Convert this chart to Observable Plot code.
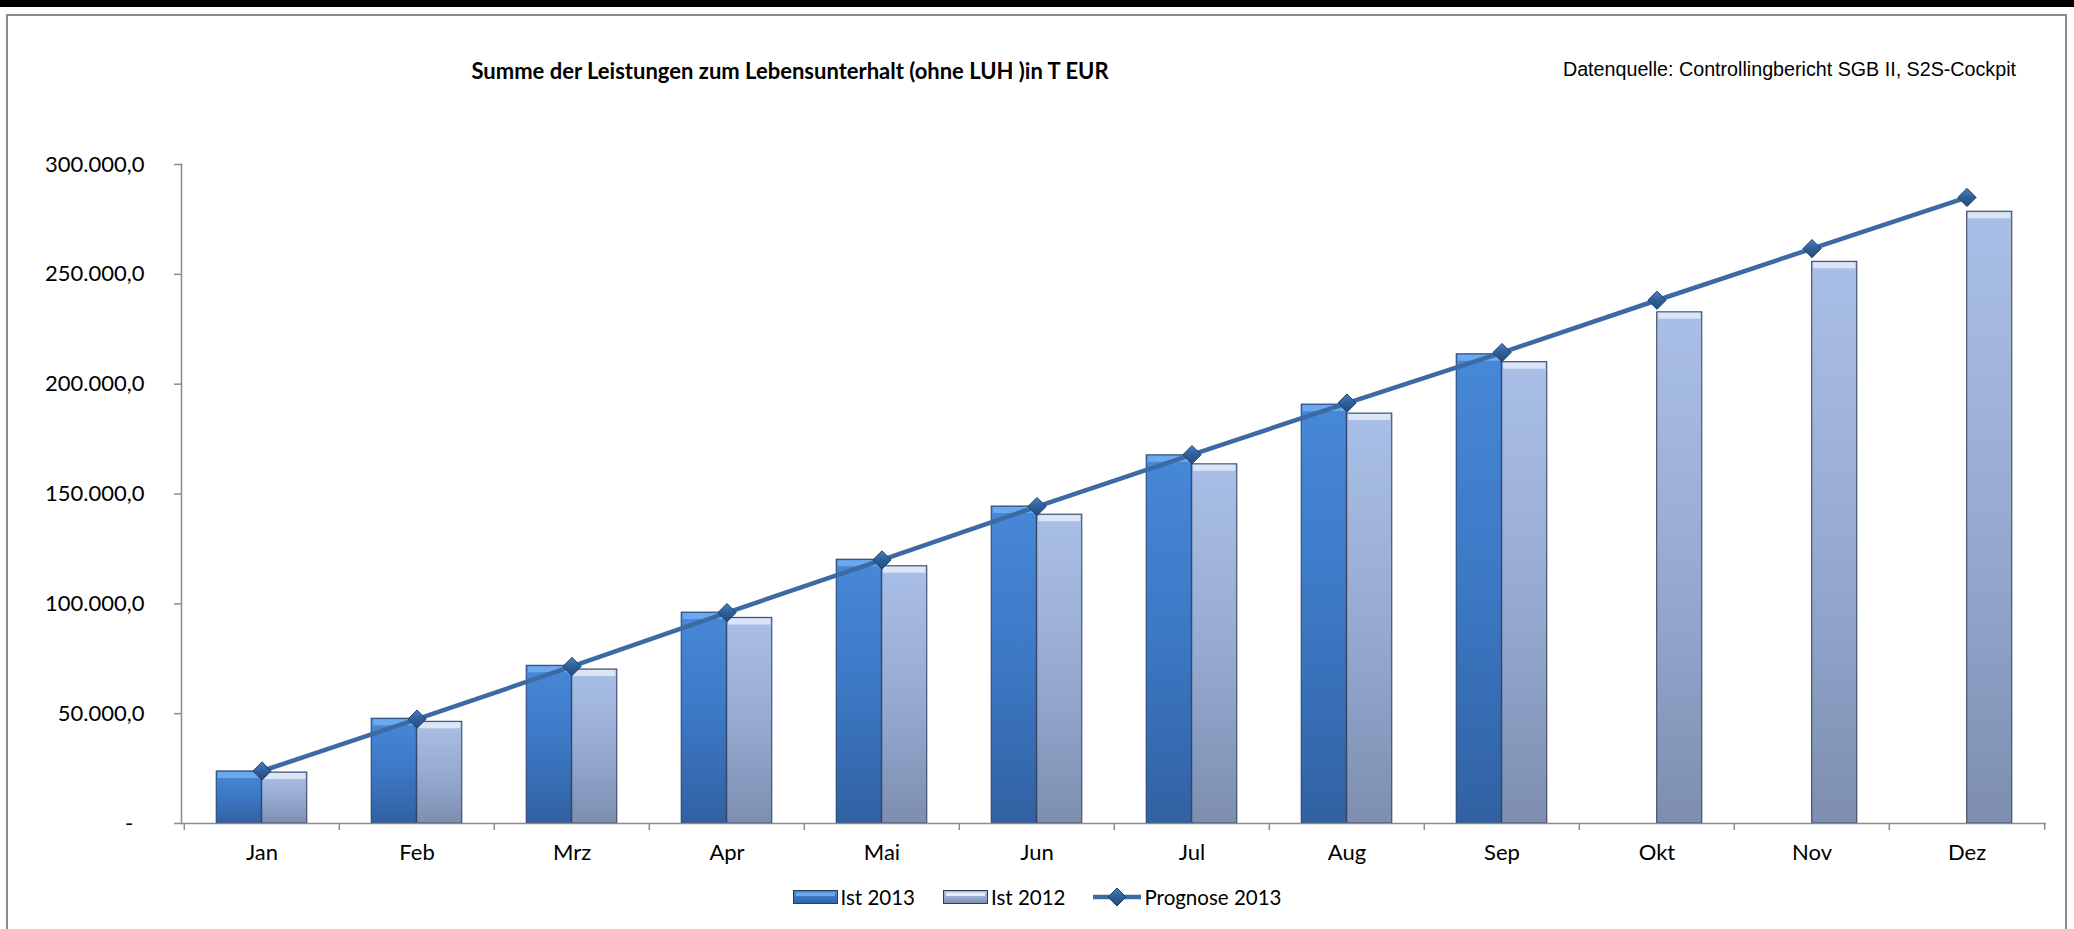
<!DOCTYPE html>
<html>
<head>
<meta charset="utf-8">
<script src="https://cdn.jsdelivr.net/npm/d3@7"></script>
<script src="https://cdn.jsdelivr.net/npm/@observablehq/plot@0.6"></script>
<style>
  body { margin: 0; background: #fff; }
  #page { position: relative; width: 2074px; height: 929px; overflow: hidden; background: #fff; font-family: Lato, sans-serif; }
  #topbar { position: absolute; left: 0; top: 0; width: 2074px; height: 7px; background: #000; }
  #frame { position: absolute; left: 6px; top: 14px; width: 2057px; height: 940px; border: 2px solid #8c8c8c; border-bottom: none; }
  #title { position: absolute; left: 0; width: 1580px; top: 57px; text-align: center; font: bold 22px Lato, sans-serif; color: #000; }
  #source { position: absolute; right: 58px; top: 58px; font: 19.7px "Liberation Sans", Arial, sans-serif; color: #000; }
  #chart { position: absolute; left: 0; top: 0; }
  #legend { position: absolute; left: 0; width: 2074px; top: 885px; display: flex; justify-content: center; align-items: center; font: 20.5px Lato, sans-serif; color: #000; }
  .item { display: flex; align-items: center; margin: 0 14px; }
  .item svg { display: block; margin-right: 3px; }
</style>
</head>
<body>
<svg width="0" height="0" style="position:absolute">
  <defs>
    <linearGradient id="g13" x1="0" y1="0" x2="0" y2="1">
      <stop offset="0" stop-color="#4788d8"/>
      <stop offset="0.5" stop-color="#3c78c4"/>
      <stop offset="1" stop-color="#3161a2"/>
    </linearGradient>
    <linearGradient id="g12" x1="0" y1="0" x2="0" y2="1">
      <stop offset="0" stop-color="#aabfe7"/>
      <stop offset="0.5" stop-color="#97abd2"/>
      <stop offset="1" stop-color="#7d8eb0"/>
    </linearGradient>
    <linearGradient id="gd" x1="0" y1="0" x2="0" y2="1">
      <stop offset="0" stop-color="#4a7fc0"/>
      <stop offset="0.5" stop-color="#2f5f98"/>
      <stop offset="1" stop-color="#244c7d"/>
    </linearGradient>
  </defs>
</svg>
<div id="page">
  <div id="topbar"></div>
  <div id="frame"></div>
  <div id="chart"></div>
  <div id="title">Summe der Leistungen zum Lebensunterhalt (ohne LUH )in T EUR</div>
  <div id="source">Datenquelle: Controllingbericht SGB II, S2S-Cockpit</div>
  <div id="legend"></div>
</div>
<script>
// ---- data ----
const months = ["Jan", "Feb", "Mrz", "Apr", "Mai", "Jun", "Jul", "Aug", "Sep", "Okt", "Nov", "Dez"];
const ist2013 = [23700, 47700, 71800, 96000, 120100, 144300, 167600, 190700, 213600, null, null, null];
const ist2012 = [23200, 46300, 70100, 93600, 117100, 140600, 163500, 186600, 210000, 232700, 255700, 278500];
const prognose2013 = [23900, 47500, 71500, 96000, 120000, 144300, 167900, 191400, 214400, 238200, 261700, 285000];
const yTicks = [0, 50000, 100000, 150000, 200000, 250000, 300000];
const seriesNames = ["Ist 2013", "Ist 2012", "Prognose 2013"];

const rows = months.map((m, i) => ({month: m, ist2013: ist2013[i], ist2012: ist2012[i], prognose: prognose2013[i]}));
const rows13 = rows.filter(d => d.ist2013 != null);

const de = d3.formatLocale({decimal: ",", thousands: ".", grouping: [3], currency: ["", " €"]});
const fmt = de.format(",.1f");

const W = 2074, H = 880;
const mL = 181, mR = 28, mT = 164, mB = 57;
const bw = (W - mL - mR) / months.length;
const barW = 45.5;

const plot = Plot.plot({
  width: W, height: H,
  marginLeft: mL, marginRight: mR, marginTop: mT, marginBottom: mB,
  style: {background: "transparent", fontFamily: "Lato, sans-serif", fontSize: "20px", color: "#000", overflow: "visible"},
  x: {domain: months, padding: 0, axis: null},
  y: {domain: [0, 300000], axis: null},
  marks: [
    Plot.frame({anchor: "left", stroke: "#8c8c8c", strokeWidth: 1.5}),
    Plot.axisY({ticks: yTicks, tickSize: 7, tickPadding: 30, stroke: "#8c8c8c", strokeWidth: 1.5, fontSize: 22, label: null,
      tickFormat: d => d === 0 ? "-\u00a0\u00a0" : fmt(d)}),
    Plot.axisX({tickSize: 7, tickFormat: null, dx: -bw / 2, stroke: "#8c8c8c", strokeWidth: 1.5, label: null}),
    Plot.axisX({ticks: [months[months.length - 1]], tickSize: 7, tickFormat: null, dx: bw / 2, stroke: "#8c8c8c", strokeWidth: 1.5, label: null}),
    Plot.axisX({tickSize: 0, tickPadding: 21, fontSize: 22, label: null}),
    Plot.barY(rows13, {x: "month", y: "ist2013", fill: "url(#g13)", stroke: "#22406c", strokeWidth: 1,
      insetLeft: bw / 2 - barW, insetRight: bw / 2}),
    Plot.tickY(rows13, {x: "month", y: "ist2013", stroke: "#6ea8ec", strokeWidth: 6, dy: 3.5,
      insetLeft: bw / 2 - barW + 1.5, insetRight: bw / 2 + 1.5}),
    Plot.barY(rows, {x: "month", y: "ist2012", fill: "url(#g12)", stroke: "#2e3c5a", strokeWidth: 1,
      insetLeft: bw / 2, insetRight: bw / 2 - barW}),
    Plot.tickY(rows, {x: "month", y: "ist2012", stroke: "#dbe5f6", strokeWidth: 6, dy: 3.5,
      insetLeft: bw / 2 + 1.5, insetRight: bw / 2 - barW + 1.5}),
    Plot.ruleY([0], {stroke: "#8c8c8c", strokeWidth: 1.5}),
    Plot.line(rows, {x: "month", y: "prognose", stroke: "#3b6aa4", strokeWidth: 4.5}),
    Plot.dot(rows, {x: "month", y: "prognose", symbol: "diamond2", r: 8.2, fill: "url(#gd)", stroke: "#1e3f6a", strokeWidth: 1})
  ]
});
document.getElementById("chart").appendChild(plot);

// ---- legend ----
const legend = document.getElementById("legend");
function swatch(fillId, hi) {
  return `<svg width="45" height="14"><rect x="0.5" y="0.5" width="44" height="13" fill="url(#${fillId})" stroke="#2e3c5a" stroke-width="1"/>` +
         `<rect x="3" y="2.5" width="39" height="3.5" fill="${hi}"/></svg>`;
}
legend.innerHTML =
  `<div class="item">${swatch("g13", "#6ea8ec")}<span>${seriesNames[0]}</span></div>` +
  `<div class="item">${swatch("g12", "#e6eefa")}<span>${seriesNames[1]}</span></div>` +
  `<div class="item"><svg width="48" height="20"><line x1="0" y1="10" x2="48" y2="10" stroke="#3b6aa4" stroke-width="4.5"/>` +
  `<path d="M24,1 L33,10 L24,19 L15,10 Z" fill="url(#gd)" stroke="#1e3f6a" stroke-width="1"/></svg><span>${seriesNames[2]}</span></div>`;
</script>
</body>
</html>
